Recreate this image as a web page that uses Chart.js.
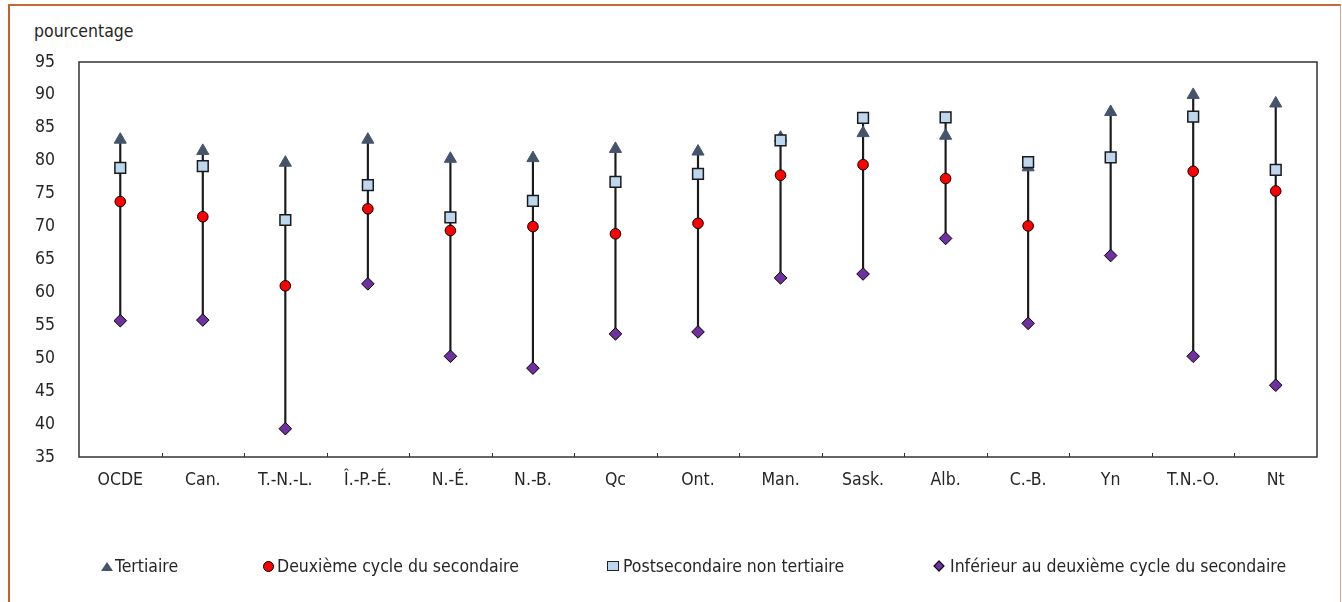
<!DOCTYPE html>
<html lang="fr">
<head>
<meta charset="utf-8">
<title>Taux d'emploi selon le niveau de scolarité</title>
<script src="https://cdn.jsdelivr.net/npm/chart.js@4/dist/chart.umd.min.js"></script>
<style>
  body { margin: 0; background: #fff; }
  #wrap { position: relative; width: 1342px; height: 602px; overflow: hidden;
    font-family: "DejaVu Sans Condensed", "Arial Narrow", sans-serif; color: #262626; }
  #frame { position: absolute; left: 8px; top: 4px; width: 1330px; height: 640px;
    border-left: 2px solid #c0622a; border-top: 2px solid #c46a36; border-right: 1px solid #d9a88c; }
  #yTitle { position: absolute; left: 34px; top: 21px; font-size: 17.5px; }
  #chartBox { position: absolute; left: 0; top: 0; width: 1342px; height: 602px; }
  .legend-item { position: absolute; top: 556px; font-size: 17.5px; white-space: nowrap; line-height: 20px; }
  .mk { position: absolute; top: 5px; box-sizing: border-box; }
  .mk.tri { width: 0; height: 0; top: 6px; border-left: 6px solid transparent; border-right: 6px solid transparent; border-bottom: 9px solid #44546a; }
  .mk.circ { width: 11px; height: 11px; top: 5px; border-radius: 50%; background: #ff0000; border: 1px solid #000; }
  .mk.sq { width: 12px; height: 10px; top: 5px; background: #bdd7ee; border: 1.5px solid #222; }
  .mk.dia { width: 8px; height: 8px; top: 6px; background: #7030a0; border: 1px solid #000; transform: rotate(45deg); }
</style>
</head>
<body>
<div id="wrap">
  <div id="frame"></div>
  <div id="yTitle">pourcentage</div>
  <div id="chartBox"><canvas id="chart"></canvas></div>
  <div class="legend-item" style="left:115px"><span class="mk tri" style="left:-14px"></span>Tertiaire</div>
  <div class="legend-item" style="left:277px"><span class="mk circ" style="left:-14px"></span>Deuxième cycle du secondaire</div>
  <div class="legend-item" style="left:623px"><span class="mk sq" style="left:-16px"></span>Postsecondaire non tertiaire</div>
  <div class="legend-item" style="left:950px"><span class="mk dia" style="left:-15px"></span>Inférieur au deuxième cycle du secondaire</div>
</div>
<script>
const regions = ['OCDE', 'Can.', 'T.-N.-L.', 'Î.-P.-É.', 'N.-É.', 'N.-B.', 'Qc', 'Ont.', 'Man.', 'Sask.', 'Alb.', 'C.-B.', 'Yn', 'T.N.-O.', 'Nt'];
const tertiaire = [83.2, 81.5, 79.7, 83.2, 80.3, 80.4, 81.8, 81.4, 83.5, 84.2, 83.8, 79.0, 87.4, 90.0, 88.7];
const deuxiemeCycle = [73.8, 71.5, 61.0, 72.7, 69.4, 70.0, 68.9, 70.5, 77.8, 79.4, 77.3, 70.1, null, 78.4, 75.4];
const postsecondaire = [78.9, 79.2, 71.0, 76.3, 71.4, 73.9, 76.8, 78.0, 83.1, 86.5, 86.6, 79.8, 80.5, 86.7, 78.6];
const inferieur = [55.7, 55.8, 39.3, 61.3, 50.3, 48.5, 53.7, 54.0, 62.2, 62.8, 68.2, 55.3, 65.6, 50.3, 45.9];

const yMin = 35;
const yMax = 95;
const yStep = 5;

const FONT = '"DejaVu Sans Condensed", "Arial Narrow", sans-serif';

// high-low line for each region, from the four series
const ranges = regions.map((_, i) => {
  const vals = [tertiaire[i], deuxiemeCycle[i], postsecondaire[i], inferieur[i]].filter(v => v != null);
  return [Math.min(...vals), Math.max(...vals)];
});

const frameAndTicks = {
  id: 'frameAndTicks',
  afterDatasetsDraw(chart) {
    const { ctx, chartArea: a, scales: { x } } = chart;
    ctx.save();
    ctx.strokeStyle = '#333';
    ctx.lineWidth = 1.5;
    ctx.strokeRect(a.left, a.top, a.right - a.left, a.bottom - a.top);
    ctx.lineWidth = 1;
    for (let i = 1; i < regions.length; i++) {
      const px = Math.round((x.getPixelForValue(i - 1) + x.getPixelForValue(i)) / 2) + 0.5;
      ctx.beginPath();
      ctx.moveTo(px, a.bottom);
      ctx.lineTo(px, a.bottom - 4);
      ctx.stroke();
    }
    ctx.restore();
  }
};

function pointSet(label, data, style, radius, fill, border, borderWidth, order) {
  return {
    type: 'line', label, data, showLine: false, order,
    pointStyle: style, pointRadius: radius, pointHoverRadius: radius,
    pointBackgroundColor: fill, pointBorderColor: border, pointBorderWidth: borderWidth,
  };
}

new Chart(document.getElementById('chart'), {
  data: {
    labels: regions,
    datasets: [
      { type: 'bar', label: 'plage', data: ranges, backgroundColor: '#1a1a1a', barThickness: 1.5, order: 10 },
      pointSet('Tertiaire', tertiaire, 'triangle', 7, '#44546a', '#44546a', 1, 4),
      pointSet('Deuxième cycle du secondaire', deuxiemeCycle, 'circle', 5.3, '#ff0000', '#000', 1, 3),
      pointSet('Postsecondaire non tertiaire', postsecondaire, 'rect', 7.6, '#bdd7ee', '#1a1a1a', 1.5, 2),
      pointSet('Inférieur au deuxième cycle du secondaire', inferieur, 'rectRot', 6.3, '#7030a0', '#000', 1, 1),
    ],
  },
  options: {
    responsive: true,
    maintainAspectRatio: false,
    animation: false,
    layout: { padding: { left: 0, right: 25, top: 62, bottom: 105 } },
    plugins: { legend: { display: false }, tooltip: { enabled: false } },
    scales: {
      x: {
        type: 'category',
        grid: { display: false, drawTicks: false },
        border: { display: false },
        ticks: { color: '#262626', font: { family: FONT, size: 17.5 }, padding: 13, maxRotation: 0, autoSkip: false },
        afterFit: scale => { scale.height = 40; },
      },
      y: {
        min: yMin, max: yMax,
        grid: { display: false, drawTicks: false },
        border: { display: false },
        ticks: { stepSize: yStep, color: '#262626', font: { family: FONT, size: 17.5 }, padding: 24 },
        afterFit: scale => { scale.width = 79; },
      },
    },
  },
  plugins: [frameAndTicks],
});
</script>
</body>
</html>
